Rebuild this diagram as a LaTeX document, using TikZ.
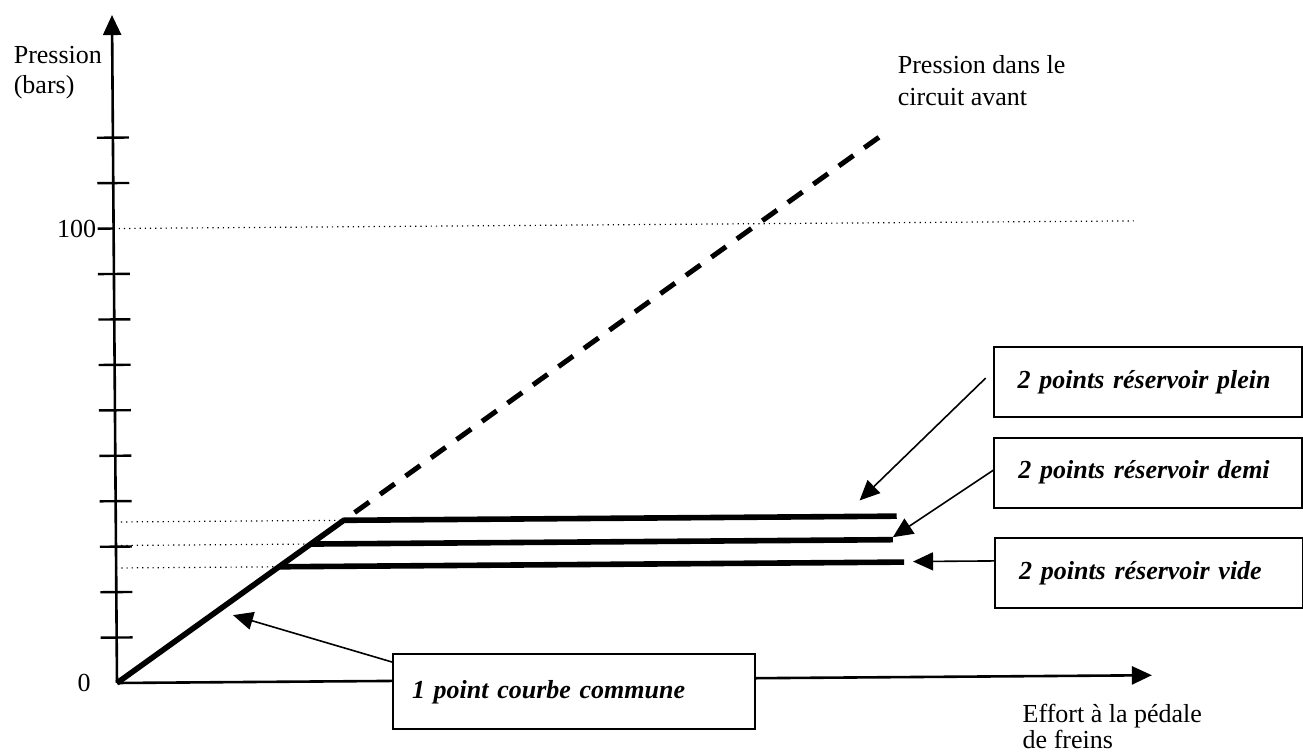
\documentclass[tikz,border=0pt]{standalone}
\usepackage{fontspec}
\setmainfont{Liberation Serif}
\usetikzlibrary{arrows.meta}

\begin{document}
\begin{tikzpicture}[x=0.5pt, y=0.5pt, font=\fontsize{13}{16}\selectfont,
    boite/.style={draw, line width=1pt, fill=white, anchor=west, align=left,
      minimum height=35pt, font=\fontsize{13}{16}\selectfont\bfseries\itshape},
    fleche/.style={-{Triangle[length=10pt,width=9pt]}, line width=0.8pt},
    palier/.style={line width=2.8pt},
    repere/.style={dotted, line width=0.6pt}]
  \useasboundingbox (-117,-72) rectangle (1186,683);
  \begin{scope}[rotate=0.43]
    % Axes
    \coordinate (O) at (0,0);
    \draw[line width=1.3pt, -{Triangle[length=10pt,width=9pt]}] (O) -- (1035,0) coordinate (xfin);
    \draw[line width=1.3pt, -{Triangle[length=10pt,width=9pt]}] (O) -- (0,668) coordinate (yfin);
    \foreach \p in {1,...,9,11,12}
      \draw[line width=1.2pt] (-16,\p*45.45) -- (16,\p*45.45);
    \draw[line width=1.2pt] (-16,454.5) -- (0,454.5);
    \draw[repere] (0,454.5) -- (1021,454.5);
    % Labels
    \node[inner sep=0pt, anchor=east] (cent) at (-17,454.5) {100};
    \node (zero) at (-33,0) {0};
    \node[anchor=west, align=left, inner sep=0pt, font=\fontsize{13}{15}\selectfont] (ordonnee) at (-99,611) {Pression\\(bars)};
    \node[anchor=west, align=left, inner sep=0pt] (avant) at (785,597) {Pression dans le\\circuit avant};
    \node[anchor=west, align=left, inner sep=0pt, font=\fontsize{13}{11.5}\selectfont] (abscisse) at (905,-50) {Effort à la pédale\\de freins};
    % Courbes
    \coordinate (vide0) at (163,115);
    \coordinate (demi0) at (195,137.5);
    \coordinate (plein0) at (228,161);
    \draw[repere] (0,115) -- (vide0);
    \draw[repere] (0,137.5) -- (demi0);
    \draw[repere] (0,161) -- (plein0);
    \draw[palier] (O) -- (plein0) -- (781,161) coordinate (plein1);
    \draw[palier] (demi0) -- (777,137.5) coordinate (demi1);
    \draw[palier] (vide0) -- (788,115) coordinate (vide1);
    % Pression avant
    \draw[line width=2.5pt, dash pattern=on 9pt off 6.67pt, dash phase=9pt] (plein0) -- (766,540) coordinate (avantfin);
    % Boites
    \node[boite, text width=130pt, inner xsep=12pt] (plein) at (878,294.4) {2 points réservoir plein};
    \node[boite, text width=130pt, inner xsep=12pt] (demi) at (878,203.9) {2 points réservoir demi};
    \node[boite, text width=130pt, inner xsep=12pt] (vide) at (878,103.4) {2 points réservoir vide};
    \node[boite, text width=162pt, inner xsep=9.5pt, minimum height=37.5pt] (commune) at (275,-11) {1 point courbe commune};
    % Fleches
    \coordinate (ciblePlein) at (744,177);
    \coordinate (cibleDemi) at (777,140);
    \coordinate (cibleVide) at (797,115.5);
    \coordinate (cibleCommune) at (116.5,67);
    \draw[fleche] ([shift={(-7,4)}]plein.west) -- (ciblePlein);
    \draw[fleche] ([yshift=1.2pt]demi.west) -- (cibleDemi);
    \draw[fleche] (vide.west |- cibleVide) -- (cibleVide);
    \draw[fleche] ([yshift=-4.3pt]commune.north west) -- (cibleCommune);
  \end{scope}
\end{tikzpicture}
\end{document}
